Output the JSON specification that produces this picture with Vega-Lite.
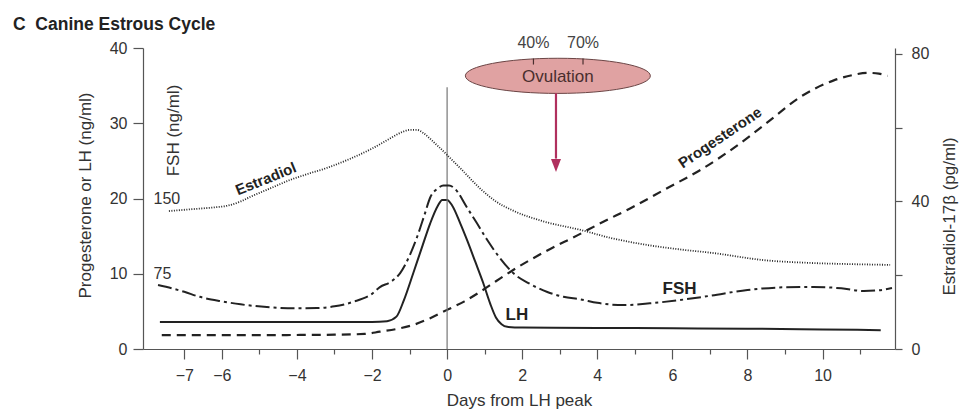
{
  "$schema": "https://vega.github.io/schema/vega-lite/v6.json",
  "width": 752,
  "height": 301,
  "autosize": {"type": "none"},
  "padding": {"left": 143, "top": 48, "right": 66, "bottom": 63},
  "background": "white",
  "title": {
    "text": "C\u00a0\u00a0Canine Estrous Cycle",
    "anchor": "start",
    "frame": "group",
    "fontSize": 17.5,
    "fontWeight": "bold",
    "font": "Liberation Sans",
    "color": "#222",
    "dx": -130,
    "offset": -12,
    "baseline": "alphabetic"
  },
  "config": {
    "view": {"stroke": null},
    "font": "Liberation Sans",
    "axis": {
      "grid": false,
      "domainColor": "#555",
      "tickColor": "#555",
      "domainWidth": 1.2,
      "tickWidth": 1.2,
      "labelColor": "#333",
      "titleColor": "#333",
      "labelFontSize": 16,
      "titleFontSize": 17,
      "titleFontWeight": "normal",
      "labelFont": "Liberation Sans",
      "titleFont": "Liberation Sans"
    }
  },
  "datasets": {
    "lh": [
      {"day": -7.65, "value": 3.6}, {"day": -5, "value": 3.6}, {"day": -3, "value": 3.6},
      {"day": -2, "value": 3.6}, {"day": -1.6, "value": 3.7}, {"day": -1.35, "value": 4.3},
      {"day": -1.15, "value": 6.5}, {"day": -0.9, "value": 10.1}, {"day": -0.65, "value": 13.8},
      {"day": -0.45, "value": 16.7}, {"day": -0.25, "value": 19.0}, {"day": -0.13, "value": 19.8},
      {"day": 0, "value": 19.8}, {"day": 0.13, "value": 19.1}, {"day": 0.35, "value": 16.7},
      {"day": 0.53, "value": 14.5}, {"day": 0.75, "value": 11.6}, {"day": 0.96, "value": 8.8},
      {"day": 1.15, "value": 6.0}, {"day": 1.3, "value": 4.2}, {"day": 1.45, "value": 3.3},
      {"day": 1.6, "value": 2.95}, {"day": 2, "value": 2.85}, {"day": 4, "value": 2.8},
      {"day": 6, "value": 2.75}, {"day": 8, "value": 2.7}, {"day": 10, "value": 2.6},
      {"day": 11.55, "value": 2.5}
    ],
    "prog": [
      {"day": -7.6, "value": 1.85}, {"day": -5, "value": 1.85}, {"day": -3, "value": 1.9},
      {"day": -2.2, "value": 2.0}, {"day": -1.79, "value": 2.3}, {"day": -1.3, "value": 2.7},
      {"day": -0.9, "value": 3.2}, {"day": -0.45, "value": 4.1}, {"day": 0, "value": 5.2},
      {"day": 0.45, "value": 6.3}, {"day": 0.88, "value": 7.6}, {"day": 1.3, "value": 9.0},
      {"day": 1.76, "value": 10.5}, {"day": 2.2, "value": 11.8}, {"day": 2.67, "value": 13.1},
      {"day": 3.47, "value": 15.1}, {"day": 4.08, "value": 16.7}, {"day": 4.96, "value": 18.9},
      {"day": 5.87, "value": 21.4}, {"day": 6.75, "value": 23.8}, {"day": 7.63, "value": 26.7},
      {"day": 8.53, "value": 30.1}, {"day": 9.41, "value": 33.5}, {"day": 10.3, "value": 35.7},
      {"day": 10.8, "value": 36.4}, {"day": 11.2, "value": 36.7}, {"day": 11.5, "value": 36.6},
      {"day": 11.73, "value": 36.3}
    ],
    "fsh": [
      {"day": -7.7, "value": 63.7}, {"day": -7, "value": 57}, {"day": -6.59, "value": 52},
      {"day": -6, "value": 47.5}, {"day": -5.5, "value": 44.5}, {"day": -4.8, "value": 41.8},
      {"day": -4, "value": 40.5}, {"day": -3.47, "value": 40.8}, {"day": -3, "value": 42.5},
      {"day": -2.5, "value": 47}, {"day": -2, "value": 55}, {"day": -1.79, "value": 61.7},
      {"day": -1.5, "value": 67}, {"day": -1.25, "value": 75.7}, {"day": -1.0, "value": 93},
      {"day": -0.8, "value": 111.6}, {"day": -0.6, "value": 134}, {"day": -0.45, "value": 151},
      {"day": -0.25, "value": 160}, {"day": -0.1, "value": 163}, {"day": 0.05, "value": 163},
      {"day": 0.2, "value": 160}, {"day": 0.53, "value": 141}, {"day": 0.8, "value": 125},
      {"day": 1.07, "value": 108.6}, {"day": 1.4, "value": 91}, {"day": 1.76, "value": 75.7},
      {"day": 2.2, "value": 65}, {"day": 2.67, "value": 56.8}, {"day": 3.1, "value": 52},
      {"day": 3.55, "value": 49.5}, {"day": 4.0, "value": 46}, {"day": 4.7, "value": 43.8},
      {"day": 5.4, "value": 45.5}, {"day": 6.2, "value": 48.8}, {"day": 7.0, "value": 53},
      {"day": 8.0, "value": 58.8}, {"day": 9.0, "value": 61.5}, {"day": 9.76, "value": 61.8},
      {"day": 10.5, "value": 60.5}, {"day": 11.1, "value": 57.8}, {"day": 11.5, "value": 58.5},
      {"day": 11.85, "value": 60.7}
    ],
    "est": [
      {"day": -7.41, "value": 37.4}, {"day": -6.8, "value": 37.9}, {"day": -6.2, "value": 38.4},
      {"day": -5.87, "value": 38.8}, {"day": -5.5, "value": 40.0}, {"day": -5.25, "value": 41.2},
      {"day": -4.7, "value": 43.6}, {"day": -4.19, "value": 45.8}, {"day": -3.7, "value": 47.5},
      {"day": -3.2, "value": 49.1}, {"day": -2.6, "value": 51.5}, {"day": -1.97, "value": 54.5},
      {"day": -1.5, "value": 57.2}, {"day": -1.2, "value": 58.8}, {"day": -0.99, "value": 59.4},
      {"day": -0.8, "value": 59.4}, {"day": -0.64, "value": 58.6}, {"day": -0.4, "value": 56.5},
      {"day": -0.2, "value": 54.6}, {"day": 0, "value": 52.6}, {"day": 0.4, "value": 48.5},
      {"day": 0.88, "value": 43.5}, {"day": 1.3, "value": 40.0}, {"day": 1.76, "value": 37.5},
      {"day": 2.6, "value": 34.5}, {"day": 3.55, "value": 32.3}, {"day": 4.4, "value": 30.0},
      {"day": 5.33, "value": 28.2}, {"day": 6.2, "value": 27.0}, {"day": 7.1, "value": 26.0},
      {"day": 8.43, "value": 24.1}, {"day": 9.76, "value": 23.3}, {"day": 10.8, "value": 23.0},
      {"day": 11.8, "value": 22.8}
    ]
  },
  "layer": [
    {
      "layer": [
        {
          "data": {"name": "lh"},
          "mark": {"type": "line", "interpolate": "monotone", "color": "#222", "strokeWidth": 2},
          "encoding": {
            "x": {
              "field": "day", "type": "quantitative",
              "scale": {"domain": [-8.1, 11.93], "nice": false, "zero": false},
              "axis": {
                "values": [-7, -6, -5, -4, -3, -2, -1, 0, 1, 2, 3, 4, 5, 6, 7, 8, 9, 10, 11],
                "labelExpr": "(datum.value % 2 === 0 || datum.value === -7) ? datum.label : ''",
                "tickSize": {"condition": {"test": "datum.value % 2 === 0 || datum.value === -7", "value": 10}, "value": 5},
                "labelPadding": 8,
                "labelFlush": false,
                "labelOverlap": false,
                "title": "Days from LH peak",
                "titleX": 376,
                "titleY": 56,
                "titleAlign": "center",
                "titleBaseline": "alphabetic"
              }
            },
            "y": {
              "field": "value", "type": "quantitative",
              "scale": {"domain": [0, 40], "nice": false},
              "axis": {
                "values": [0, 10, 20, 30, 40],
                "tickSize": 10,
                "labelPadding": 6,
                "title": "Progesterone or LH (ng/ml)",
                "titleX": -58,
                "titleY": 147,
                "titleAngle": 270,
                "titleAlign": "center",
                "titleBaseline": "middle"
              }
            }
          }
        },
        {
          "data": {"name": "prog"},
          "mark": {"type": "line", "interpolate": "monotone", "color": "#222", "strokeWidth": 2.2, "strokeDash": [9, 6]},
          "encoding": {
            "x": {"field": "day", "type": "quantitative"},
            "y": {"field": "value", "type": "quantitative"}
          }
        },
        {
          "data": {"values": [{}]},
          "mark": {"type": "rule", "color": "#777", "strokeWidth": 1.2},
          "encoding": {
            "x": {"datum": 0, "type": "quantitative"},
            "y": {"datum": 0, "type": "quantitative"},
            "y2": {"datum": 34.8}
          }
        },
        {
          "data": {"values": [{"day": -4.83, "value": 22.6, "label": "Estradiol"}]},
          "mark": {"type": "text", "angle": 338, "fontWeight": "bold", "fontSize": 15, "color": "#222", "baseline": "middle", "align": "center"},
          "encoding": {
            "x": {"field": "day", "type": "quantitative"},
            "y": {"field": "value", "type": "quantitative"},
            "text": {"field": "label"}
          }
        },
        {
          "data": {"values": [{"day": 7.27, "value": 28.1, "label": "Progesterone"}]},
          "mark": {"type": "text", "angle": 326, "fontWeight": "bold", "fontSize": 15, "color": "#222", "baseline": "middle", "align": "center"},
          "encoding": {
            "x": {"field": "day", "type": "quantitative"},
            "y": {"field": "value", "type": "quantitative"},
            "text": {"field": "label"}
          }
        },
        {
          "data": {"values": [{"day": 1.86, "value": 4.5, "label": "LH"}, {"day": 6.19, "value": 7.97, "label": "FSH"}]},
          "mark": {"type": "text", "fontWeight": "bold", "fontSize": 17, "color": "#222", "baseline": "middle", "align": "center"},
          "encoding": {
            "x": {"field": "day", "type": "quantitative"},
            "y": {"field": "value", "type": "quantitative"},
            "text": {"field": "label"}
          }
        },
        {
          "data": {"values": [{"day": 2.95, "value": 36.3, "label": "Ovulation"}]},
          "mark": {"type": "point", "shape": "M -1 0 A 1 0.19 0 1 1 1 0 A 1 0.19 0 1 1 -1 0 Z", "size": 34225, "filled": true, "fill": "#e0a2a2", "stroke": "#6b4545", "strokeWidth": 1, "opacity": 1},
          "encoding": {
            "x": {"field": "day", "type": "quantitative"},
            "y": {"field": "value", "type": "quantitative"}
          }
        },
        {
          "data": {"values": [{"day": 2.95, "value": 36.3, "label": "Ovulation"}]},
          "mark": {"type": "text", "fontSize": 17, "color": "#4a2e2e", "baseline": "middle", "align": "center", "dy": 1},
          "encoding": {
            "x": {"field": "day", "type": "quantitative"},
            "y": {"field": "value", "type": "quantitative"},
            "text": {"field": "label"}
          }
        },
        {
          "data": {"values": [{"day": 2.3, "label": "40%"}, {"day": 3.62, "label": "70%"}]},
          "mark": {"type": "rule", "color": "#4a2e2e", "strokeWidth": 1.2},
          "encoding": {
            "x": {"field": "day", "type": "quantitative"},
            "y": {"datum": 38.6, "type": "quantitative"},
            "y2": {"datum": 37.8}
          }
        },
        {
          "data": {"values": [{"day": 2.3, "label": "40%"}, {"day": 3.62, "label": "70%"}]},
          "mark": {"type": "text", "fontSize": 16, "color": "#444", "baseline": "middle", "align": "center"},
          "encoding": {
            "x": {"field": "day", "type": "quantitative"},
            "y": {"datum": 40.66, "type": "quantitative"},
            "text": {"field": "label"}
          }
        },
        {
          "data": {"values": [{}]},
          "mark": {"type": "rule", "color": "#b0305e", "strokeWidth": 2.2},
          "encoding": {
            "x": {"datum": 2.9, "type": "quantitative"},
            "y": {"datum": 34.0, "type": "quantitative"},
            "y2": {"datum": 25.3}
          }
        },
        {
          "data": {"values": [{}]},
          "mark": {"type": "point", "shape": "M -1 -1.3 L 1 -1.3 L 0 1.3 Z", "size": 100, "filled": true, "fill": "#b0305e", "opacity": 1, "strokeWidth": 0},
          "encoding": {
            "x": {"datum": 2.9, "type": "quantitative"},
            "y": {"datum": 24.4, "type": "quantitative"}
          }
        }
      ]
    },
    {
      "data": {"name": "est"},
      "mark": {"type": "line", "interpolate": "monotone", "color": "#222", "strokeWidth": 1.8, "strokeDash": [1, 1.5]},
      "encoding": {
        "x": {"field": "day", "type": "quantitative"},
        "y": {
          "field": "value", "type": "quantitative",
          "scale": {"domain": [0, 81.6], "nice": false},
          "axis": {
            "orient": "right",
            "values": [0, 20, 40, 60, 80],
            "labelExpr": "datum.value % 40 === 0 ? datum.label : ''",
            "tickSize": 7,
            "labelPadding": 9,
            "title": "Estradiol-17β (pg/ml)",
            "titleAngle": 270,
            "titleX": 54,
            "titleY": 168,
            "titleAlign": "center",
            "titleBaseline": "middle"
          }
        }
      }
    },
    {
      "data": {"name": "fsh"},
      "mark": {"type": "line", "interpolate": "monotone", "color": "#222", "strokeWidth": 2, "strokeDash": [14, 4, 3, 4]},
      "encoding": {
        "x": {"field": "day", "type": "quantitative"},
        "y": {
          "field": "value", "type": "quantitative",
          "scale": {"domain": [0, 300], "nice": false},
          "axis": {
            "orient": "left",
            "values": [75, 150],
            "domain": false,
            "ticks": false,
            "tickSize": 0,
            "labelAlign": "left",
            "labelPadding": -10,
            "title": "FSH (ng/ml)",
            "titleX": 30,
            "titleY": 82,
            "titleAngle": 270,
            "titleAlign": "center",
            "titleBaseline": "middle"
          }
        }
      }
    }
  ],
  "resolve": {"scale": {"y": "independent"}}
}
